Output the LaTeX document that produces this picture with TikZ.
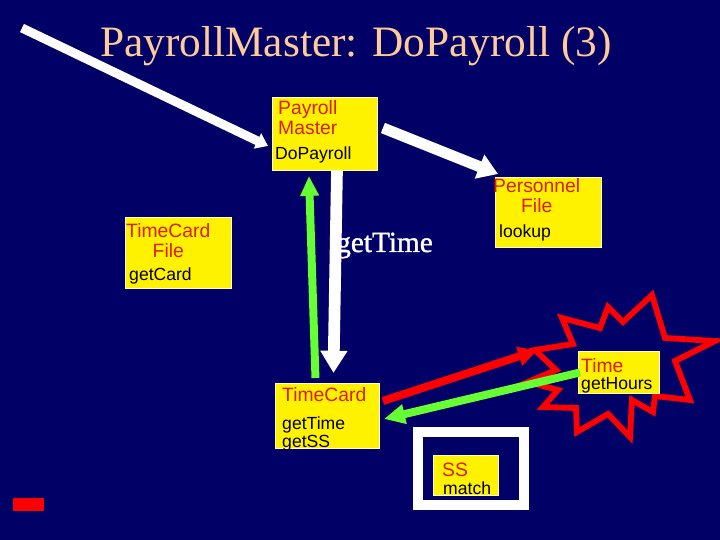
\documentclass[tikz,border=0pt]{standalone}
\usepackage{fontspec}
\setmainfont{Liberation Serif}
\newfontfamily\arial{Liberation Sans}
\newfontfamily\ghostfont[FakeBold=1.2]{Liberation Serif}
\usetikzlibrary{arrows.meta}
\definecolor{navy}{RGB}{0,0,102}
\definecolor{peach}{RGB}{255,204,153}
\definecolor{lime}{RGB}{102,255,51}
\definecolor{clsred}{RGB}{220,30,0}

\begin{document}
\begin{tikzpicture}[x=0.03cm,y=-0.03cm]
                \tikzstyle{cls}=[draw=white!80!yellow,fill=yellow,line width=0.8pt,anchor=north west,inner sep=0pt]
                \tikzstyle{cname}=[text=clsred,font=\arial\fontsize{16.5}{17}\selectfont,inner sep=0pt,anchor=north west,align=left]
                \tikzstyle{cop}=[text=black,font=\arial\fontsize{15}{13}\selectfont,inner sep=0pt,anchor=north west,align=left]
                \tikzstyle{ghost}=[text=white,font=\ghostfont\fontsize{25}{25}\selectfont,inner sep=0pt,anchor=base east]
                \tikzstyle{call}=[white,line width=9.4pt,-{Triangle[width=21pt,length=17pt]}]
                \tikzstyle{back}=[lime,line width=6.8pt,-{Triangle[width=15pt,length=17pt]}]
                \newcommand\clbox[5]{\node[cls,minimum width=#3*0.03cm,minimum height=#4*0.03cm] at (#1,#2) (#5) {};}
                \fill[navy] (0,0) rectangle (720,540);
                \useasboundingbox (0,0) rectangle (720,540);
                \node[text=peach,font=\fontsize{37}{37}\selectfont,inner sep=0pt,anchor=base] (title) at (356,57) {PayrollMaster: DoPayroll (3)};
                % burst behind the Time box
                \draw[red,line width=5pt,line join=miter] (652,295) -- (665,338) -- (715,341) -- (675,361) -- (690,400)
                    -- (655,396) -- (653,412) -- (632,400) -- (630,437) -- (608,414) -- (577,432) -- (576,408)
                    -- (543,407) -- (558,390) -- (528,382) -- (556,370) -- (535,350) -- (573,344) -- (562,318)
                    -- (600,328) -- (608,307) -- (623,322) -- cycle;
                \node[ghost] (gt) at (433,252) {getTime};
                \clbox{272}{97}{105}{73}{pm};
                \clbox{495}{177}{106}{70}{pf};
                \clbox{125}{217}{106}{71}{tcf};
                \clbox{275}{383}{104}{65}{tc};
                \clbox{578}{351}{81}{42}{tm};
                \clbox{433}{455}{65}{40}{ss};
                \node[cname] (pm-n) at (278,100) {Payroll\\Master};
                \node[cop] (pm-o) at (275,147) {DoPayroll};
                \node[cname,align=center] (pf-n) at (493,178) {Personnel\\File};
                \node[cop] (pf-o) at (499,225) {lookup};
                \node[cname,align=center] (tcf-n) at (126,223) {TimeCard\\File};
                \node[cop] (tcf-o) at (129,268) {getCard};
                \node[cname] (tc-n) at (282,387) {TimeCard};
                \node[cop] (tc-o) at (282,417) {getTime\\getSS};
                \node[cname,font=\arial\fontsize{16.5}{15}\selectfont] (tm-n) at (581,358) {Time\\{\fontsize{15}{15}\selectfont\color{black}getHours}};
                \node[cname] (ss-n) at (442,463) {SS};
                \node[cop] (ss-o) at (443,482) {match};
                \draw[white,line width=8.5pt] (418,432) rectangle (524,505);
                \fill[red] (13,498) rectangle (44,511);
                \coordinate (src) at (22,28);
                \draw[call,line width=7.7pt,-{Triangle[width=14pt,length=10pt]}] (src) -- ([shift={(-4,12)}]pm.west);
                \draw[call] ([shift={(5,-6)}]pm.east) -- ([shift={(3,-3)}]pf.north west);
                \draw[call,line width=10pt,-{Triangle[width=22pt,length=19pt]}] ([shift={(12,0)}]pm.south) -- ([shift={(6,-10)}]tc.north);
                \draw[back] ([shift={(-12,-5)}]tc.north) -- ([shift={(-16,5)}]pm.south);
                \draw[red,line width=6.8pt,-{Triangle[width=16pt,length=16pt]}] ([shift={(3,-15)}]tc.east) -- ([shift={(-41,-22)}]tm.west);
                \draw[back,-{Triangle[width=16pt,length=18pt]}] ([shift={(2,0)}]tm.west) -- ([shift={(4,3)}]tc.east);
            \end{tikzpicture}
\end{document}
